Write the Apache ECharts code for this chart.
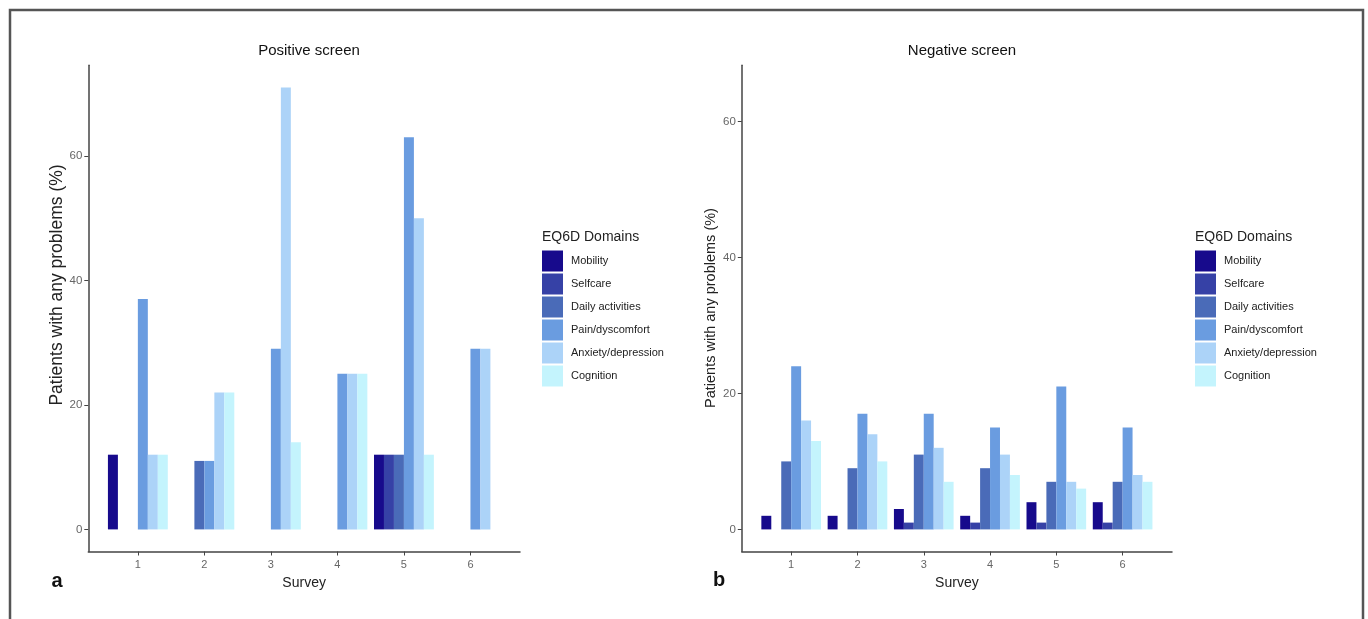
<!DOCTYPE html>
<html>
<head>
<meta charset="utf-8">
<title>EQ6D Domains</title>
<script src="https://cdn.jsdelivr.net/npm/echarts@6/dist/echarts.min.js"></script>
<style>
  html, body { margin: 0; padding: 0; background: #fff; }
  #main { width: 1368px; height: 619px; }
</style>
</head>
<body>
<div id="main"></div>
<script>
// surveys on the x axis, domains are the series
var surveys = [1, 2, 3, 4, 5, 6];
var domains = ['Mobility', 'Selfcare', 'Daily activities', 'Pain/dyscomfort', 'Anxiety/depression', 'Cognition'];
var domainColors = ['#170a8c', '#3641a6', '#4a6bb8', '#6a9ce0', '#acd3f8', '#c4f4fd'];

// positive screen, % per domain, one row per domain
var positiveMobility = [12, 0, 0, 0, 12, 0];
var positiveSelfcare = [0, 0, 0, 0, 12, 0];
var positiveDaily = [0, 11, 0, 0, 12, 0];
var positivePain = [37, 11, 29, 25, 63, 29];
var positiveAnxiety = [12, 22, 71, 25, 50, 29];
var positiveCognition = [12, 22, 14, 25, 12, 0];

// negative screen
var negativeMobility = [2, 2, 3, 2, 4, 4];
var negativeSelfcare = [0, 0, 1, 1, 1, 1];
var negativeDaily = [10, 9, 11, 9, 7, 7];
var negativePain = [24, 17, 17, 15, 21, 15];
var negativeAnxiety = [16, 14, 12, 11, 7, 8];
var negativeCognition = [13, 10, 7, 8, 6, 7];

var positiveTicks = [0, 20, 40, 60];
var negativeTicks = [0, 20, 40, 60];

var positiveRows = [positiveMobility, positiveSelfcare, positiveDaily, positivePain, positiveAnxiety, positiveCognition];
var negativeRows = [negativeMobility, negativeSelfcare, negativeDaily, negativePain, negativeAnxiety, negativeCognition];

var font = 'Liberation Sans, Arial, sans-serif';
var axisColor = '#444';

function makeSeries(rows, idx) {
  return rows.map(function (row, i) {
    return {
      name: domains[i],
      type: 'bar',
      xAxisIndex: idx,
      yAxisIndex: idx,
      barWidth: '15%',
      barGap: '0%',
      itemStyle: { color: domainColors[i] },
      emphasis: { disabled: true },
      data: surveys.map(function (s, j) { return [s, row[j]]; })
    };
  });
}

function xAxisFor(idx) {
  return {
    type: 'value',
    gridIndex: idx,
    min: 0.255,
    max: 6.745,
    name: 'Survey',
    nameLocation: 'middle',
    nameGap: 25,
    nameTextStyle: { fontFamily: font, fontSize: 14, color: '#222' },
    splitLine: { show: false },
    axisLine: { show: true, onZero: false, lineStyle: { color: axisColor, width: 1.5 } },
    axisTick: { show: true, length: 4, customValues: surveys, lineStyle: { color: axisColor } },
    axisLabel: { customValues: surveys, margin: 8, fontFamily: font, fontSize: 11, color: '#666' }
  };
}

function yAxisFor(idx, min, max, ticks) {
  return {
    type: 'value',
    gridIndex: idx,
    min: min,
    max: max,
    splitLine: { show: false },
    axisLine: { show: true, lineStyle: { color: axisColor, width: 1.5 } },
    axisTick: { show: true, length: 4, customValues: ticks, lineStyle: { color: axisColor } },
    axisLabel: { customValues: ticks, margin: 6, fontFamily: font, fontSize: 11.5, color: '#666' }
  };
}

function legendFor(left) {
  return {
    orient: 'vertical',
    left: left,
    top: 250.5,
    padding: 0,
    icon: 'rect',
    itemWidth: 21,
    itemHeight: 21,
    itemGap: 2,
    selectedMode: false,
    data: domains,
    textStyle: { fontFamily: font, fontSize: 11, color: '#222', padding: [0, 0, 0, 3] }
  };
}

var chart = echarts.init(document.getElementById('main'));
chart.setOption({
  backgroundColor: '#fff',
  animation: false,
  title: [
    { text: 'Positive screen', left: 304, top: 38, textAlign: 'center',
      textStyle: { fontFamily: font, fontSize: 15, fontWeight: 'normal', color: '#111' } },
    { text: 'Negative screen', left: 957, top: 38, textAlign: 'center',
      textStyle: { fontFamily: font, fontSize: 15, fontWeight: 'normal', color: '#111' } }
  ],
  grid: [
    { left: 88.3, top: 65.3, width: 431.7, height: 486.2 },
    { left: 741.8, top: 65.3, width: 430.2, height: 486.2 }
  ],
  xAxis: [xAxisFor(0), xAxisFor(1)],
  yAxis: [
    yAxisFor(0, -3.55, 74.55, positiveTicks),
    yAxisFor(1, -3.25, 68.25, negativeTicks)
  ],
  legend: [legendFor(542), legendFor(1195)],
  series: makeSeries(positiveRows, 0).concat(makeSeries(negativeRows, 1)),
  graphic: [
    { type: 'rect', shape: { x: 10, y: 10, width: 1353, height: 640 },
      style: { fill: 'none', stroke: '#555', lineWidth: 2.5 }, silent: true },
    { type: 'text', x: 57, y: 285, rotation: Math.PI / 2,
      style: { text: 'Patients with any problems (%)', fontFamily: font, fontSize: 17.5, fill: '#222',
        textAlign: 'center', textVerticalAlign: 'middle' } },
    { type: 'text', x: 711, y: 308, rotation: Math.PI / 2,
      style: { text: 'Patients with any problems (%)', fontFamily: font, fontSize: 14.5, fill: '#222',
        textAlign: 'center', textVerticalAlign: 'middle' } },
    { type: 'text', x: 542, y: 237,
      style: { text: 'EQ6D Domains', fontFamily: font, fontSize: 14, fill: '#222', textVerticalAlign: 'middle' } },
    { type: 'text', x: 1195, y: 237,
      style: { text: 'EQ6D Domains', fontFamily: font, fontSize: 14, fill: '#222', textVerticalAlign: 'middle' } },
    { type: 'text', x: 57, y: 581,
      style: { text: 'a', fontFamily: font, fontSize: 20, fontWeight: 'bold', fill: '#111',
        textAlign: 'center', textVerticalAlign: 'middle' } },
    { type: 'text', x: 719, y: 580,
      style: { text: 'b', fontFamily: font, fontSize: 20, fontWeight: 'bold', fill: '#111',
        textAlign: 'center', textVerticalAlign: 'middle' } }
  ]
});
</script>
</body>
</html>
